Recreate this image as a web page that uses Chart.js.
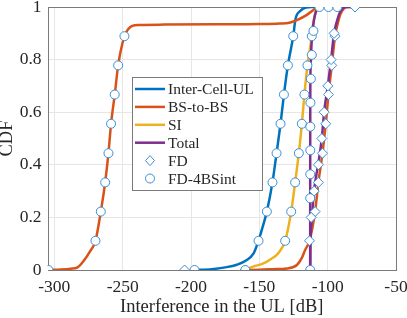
<!DOCTYPE html>
<html>
<head>
<meta charset="utf-8">
<script src="https://cdn.jsdelivr.net/npm/chart.js@4.4.1/dist/chart.umd.min.js"></script>
<style>
  html, body { margin: 0; padding: 0; background: #fff; }
  canvas { display: block; }
</style>
</head>
<body>
<canvas id="cdf-chart" width="407" height="318"></canvas>
<script>
// Axis ticks
const xTicks = [-300, -250, -200, -150, -100, -50];
const yTicks = [0, 0.2, 0.4, 0.6, 0.8, 1];

// Inter-Cell-UL
const interCellX = [-197.4, -185, -175, -166.4, -160, -154.2, -150.6, -147.5, -144.5, -140.4, -137.4, -134.5, -132, -129.1, -125.2, -123.5, -120, -116, -112, -106];
const interCellY = [0, 0.003, 0.01, 0.02, 0.035, 0.063, 0.111, 0.165, 0.222, 0.333, 0.444, 0.556, 0.667, 0.778, 0.889, 0.955, 0.985, 0.998, 1, 1];

// BS-to-BS, FD-4BSint case
const bsbs4X = [-304.3, -295, -288, -283, -278.5, -274, -269.9, -266, -262.8, -260.4, -258.5, -255.8, -253.3, -248.7, -246, -243, -238, -220, -180, -150, -135, -128, -122.5, -115.2, -110.4, -107.5, -92.9];
const bsbs4Y = [0, 0.002, 0.005, 0.01, 0.035, 0.07, 0.111, 0.222, 0.333, 0.444, 0.556, 0.667, 0.778, 0.889, 0.915, 0.928, 0.932, 0.933, 0.934, 0.935, 0.937, 0.94, 0.95, 0.97, 0.989, 1, 1];

// SI
const siX = [-160.3, -155, -147, -142, -136, -131.1, -126.7, -123.8, -121.1, -118.9, -117, -114.8, -113, -111.6, -110.5, -109, -107.5, -99.4];
const siY = [0, 0.012, 0.025, 0.04, 0.065, 0.111, 0.222, 0.333, 0.444, 0.556, 0.667, 0.778, 0.84, 0.889, 0.94, 0.98, 1, 1];

// Total, FD-4BSint case
const total4X = [-112.8, -112.78, -112.75, -112.7, -112.4, -111.8, -110.6, -109, -107.5, -106];
const total4Y = [0, 0.3, 0.55, 0.68, 0.78, 0.86, 0.93, 0.975, 0.995, 1];

// BS-to-BS, FD case
const bsbsFdX = [-160.3, -150, -140, -129.9, -122.5, -119, -116.5, -113.3, -109.2, -106.8, -103.8, -101.4, -99.4, -97, -94.6, -92.5, -90.5, -88, -85.5, -80];
const bsbsFdY = [0, 0.001, 0.003, 0.006, 0.019, 0.045, 0.076, 0.111, 0.222, 0.333, 0.444, 0.556, 0.667, 0.778, 0.889, 0.94, 0.975, 0.995, 1, 1];

// Total, FD case
const totalFdX = [-112.8, -112.6, -112.3, -111.5, -110, -107, -104.3, -102.6, -99.9, -97.5, -95.3, -93, -91, -89, -86.5, -80];
const totalFdY = [0, 0.1, 0.15, 0.2, 0.3, 0.4, 0.5, 0.6, 0.7, 0.8, 0.9, 0.95, 0.98, 0.995, 1, 1];

// Markers: FD (diamonds) and FD-4BSint (circles)
const fdMarkX = [-160.3, -113.3, -109.2, -106.8, -103.8, -101.4, -99.4, -97, -94.6, -80,
                 -204.7, -112.1, -109.9, -106.8, -104.3, -102.6, -99.9, -97.5, -95.3];
const fdMarkY = [0, 0.111, 0.222, 0.333, 0.444, 0.556, 0.667, 0.778, 0.889, 1,
                 0, 0.2, 0.3, 0.4, 0.5, 0.6, 0.7, 0.8, 0.9];
const fd4MarkX = [-197.4, -150.6, -144.5, -140.4, -137.4, -134.5, -132, -129.1, -125.2,
                  -304.3, -269.9, -266, -262.8, -260.4, -258.5, -255.8, -253.3, -248.7,
                  -160.3, -131.1, -126.7, -123.8, -121.1, -118.9, -117, -114.8, -111.6,
                  -112.8, -112.8, -112.75, -112.7, -112.7, -112.6, -112.3, -111.6, -110.4,
                  -106, -99.4, -92.9];
const fd4MarkY = [0, 0.111, 0.222, 0.333, 0.444, 0.556, 0.667, 0.778, 0.889,
                  0, 0.111, 0.222, 0.333, 0.444, 0.556, 0.667, 0.778, 0.889,
                  0, 0.111, 0.222, 0.333, 0.444, 0.556, 0.667, 0.778, 0.889,
                  0, 0.273, 0.364, 0.455, 0.545, 0.636, 0.727, 0.818, 0.909,
                  1, 1, 1];

const legendLabels = ["Inter-Cell-UL", "BS-to-BS", "SI", "Total", "FD", "FD-4BSint"];

const BLUE = "#0072BD";
const ORANGE = "#D95319";
const YELLOW = "#EDB120";
const PURPLE = "#7E2F8E";
const MARK = "#3a8fd6";
const TEXT = "#262626";
const FONT = "'Liberation Serif', 'Times New Roman', serif";

function toPoints(xs, ys) {
  return xs.map((x, i) => ({ x: x, y: ys[i] }));
}

function lineSet(label, xs, ys, color) {
  return {
    label: label,
    data: toPoints(xs, ys),
    borderColor: color,
    borderWidth: 2.5,
    pointRadius: 0,
    fill: false,
    showLine: true,
    cubicInterpolationMode: "monotone",
  };
}

// Axes box drawn under the data, legend drawn on top
const boxAndLegend = {
  id: "boxAndLegend",
  beforeDatasetsDraw(chart) {
    const { ctx, chartArea: a } = chart;
    ctx.save();
    ctx.strokeStyle = "#7a7a7a";
    ctx.lineWidth = 1;
    ctx.strokeRect(Math.round(a.left) + 0.5, Math.round(a.top) + 0.5,
      Math.round(a.right - a.left) - 1, Math.round(a.bottom - a.top));
    ctx.restore();
  },
  afterDraw(chart) {
    const ctx = chart.ctx;
    const bx = 132, by = 77, bw = 130, bh = 113;
    ctx.save();
    ctx.fillStyle = "#fff";
    ctx.fillRect(bx, by, bw, bh);
    ctx.strokeStyle = "#7a7a7a";
    ctx.lineWidth = 1;
    ctx.strokeRect(bx + 0.5, by + 0.5, bw, bh);
    const colors = [BLUE, ORANGE, YELLOW, PURPLE];
    ctx.font = "15.5px " + FONT;
    ctx.textBaseline = "middle";
    legendLabels.forEach((text, i) => {
      const y = 89 + i * 17.9;
      if (i < 4) {
        ctx.strokeStyle = colors[i];
        ctx.lineWidth = 2.5;
        ctx.beginPath();
        ctx.moveTo(135, y);
        ctx.lineTo(165, y);
        ctx.stroke();
      } else {
        ctx.strokeStyle = MARK;
        ctx.lineWidth = 1;
        ctx.beginPath();
        if (i === 4) {
          ctx.moveTo(150, y - 5);
          ctx.lineTo(154.5, y);
          ctx.lineTo(150, y + 5);
          ctx.lineTo(145.5, y);
          ctx.closePath();
        } else {
          ctx.arc(150, y, 4.5, 0, Math.PI * 2);
        }
        ctx.stroke();
      }
      ctx.fillStyle = TEXT;
      ctx.fillText(text, 168, y + 1);
    });
    ctx.restore();
  },
};

const ctx = document.getElementById("cdf-chart").getContext("2d");

new Chart(ctx, {
  type: "scatter",
  data: {
    datasets: [
      {
        label: "FD-4BSint",
        data: toPoints(fd4MarkX, fd4MarkY),
        pointStyle: "circle",
        pointRadius: 4.5,
        pointBorderWidth: 1,
        pointBorderColor: MARK,
        pointBackgroundColor: "#fff",
        showLine: false,
      },
      {
        label: "FD",
        data: toPoints(fdMarkX, fdMarkY),
        pointStyle: "rectRot",
        pointRadius: 5,
        pointBorderWidth: 1,
        pointBorderColor: MARK,
        pointBackgroundColor: "#fff",
        showLine: false,
      },
      lineSet("Total FD", totalFdX, totalFdY, PURPLE),
      lineSet("BS-to-BS FD", bsbsFdX, bsbsFdY, ORANGE),
      lineSet("Total", total4X, total4Y, PURPLE),
      lineSet("SI", siX, siY, YELLOW),
      lineSet("BS-to-BS", bsbs4X, bsbs4Y, ORANGE),
      lineSet("Inter-Cell-UL", interCellX, interCellY, BLUE),
    ],
  },
  options: {
    responsive: false,
    animation: false,
    layout: { padding: { top: 7, right: 11, left: 0, bottom: 0 } },
    plugins: {
      legend: { display: false },
      tooltip: { enabled: false },
    },
    scales: {
      x: {
        type: "linear",
        min: -305,
        max: -50,
        afterBuildTicks: (s) => { s.ticks = xTicks.map((v) => ({ value: v })); },
        afterFit: (s) => { s.height = 48; s.paddingRight = 0; s.paddingLeft = 0; },
        grid: { color: "#e6e6e6", drawTicks: false },
        border: { display: false },
        ticks: {
          padding: 7,
          color: TEXT,
          font: { family: FONT, size: 17.5 },
          callback: (v) => String(v),
        },
        title: {
          display: true,
          text: "Interference in the UL [dB]",
          color: TEXT,
          font: { family: FONT, size: 18.5 },
          padding: { top: 0, bottom: 0 },
        },
      },
      y: {
        type: "linear",
        min: 0,
        max: 1,
        afterBuildTicks: (s) => { s.ticks = yTicks.map((v) => ({ value: v })); },
        afterFit: (s) => { s.width = 47.5; s.paddingTop = 0; s.paddingBottom = 0; },
        grid: { color: "#e6e6e6", drawTicks: false },
        border: { display: false },
        ticks: {
          padding: 6,
          color: TEXT,
          font: { family: FONT, size: 17.5 },
          callback: (v) => String(Math.round(v * 10) / 10),
        },
        title: {
          display: true,
          text: "CDF",
          color: TEXT,
          font: { family: FONT, size: 18.5, lineHeight: 0.8 },
          padding: { top: 0, bottom: 0 },
        },
      },
    },
  },
  plugins: [boxAndLegend],
});
</script>
</body>
</html>
